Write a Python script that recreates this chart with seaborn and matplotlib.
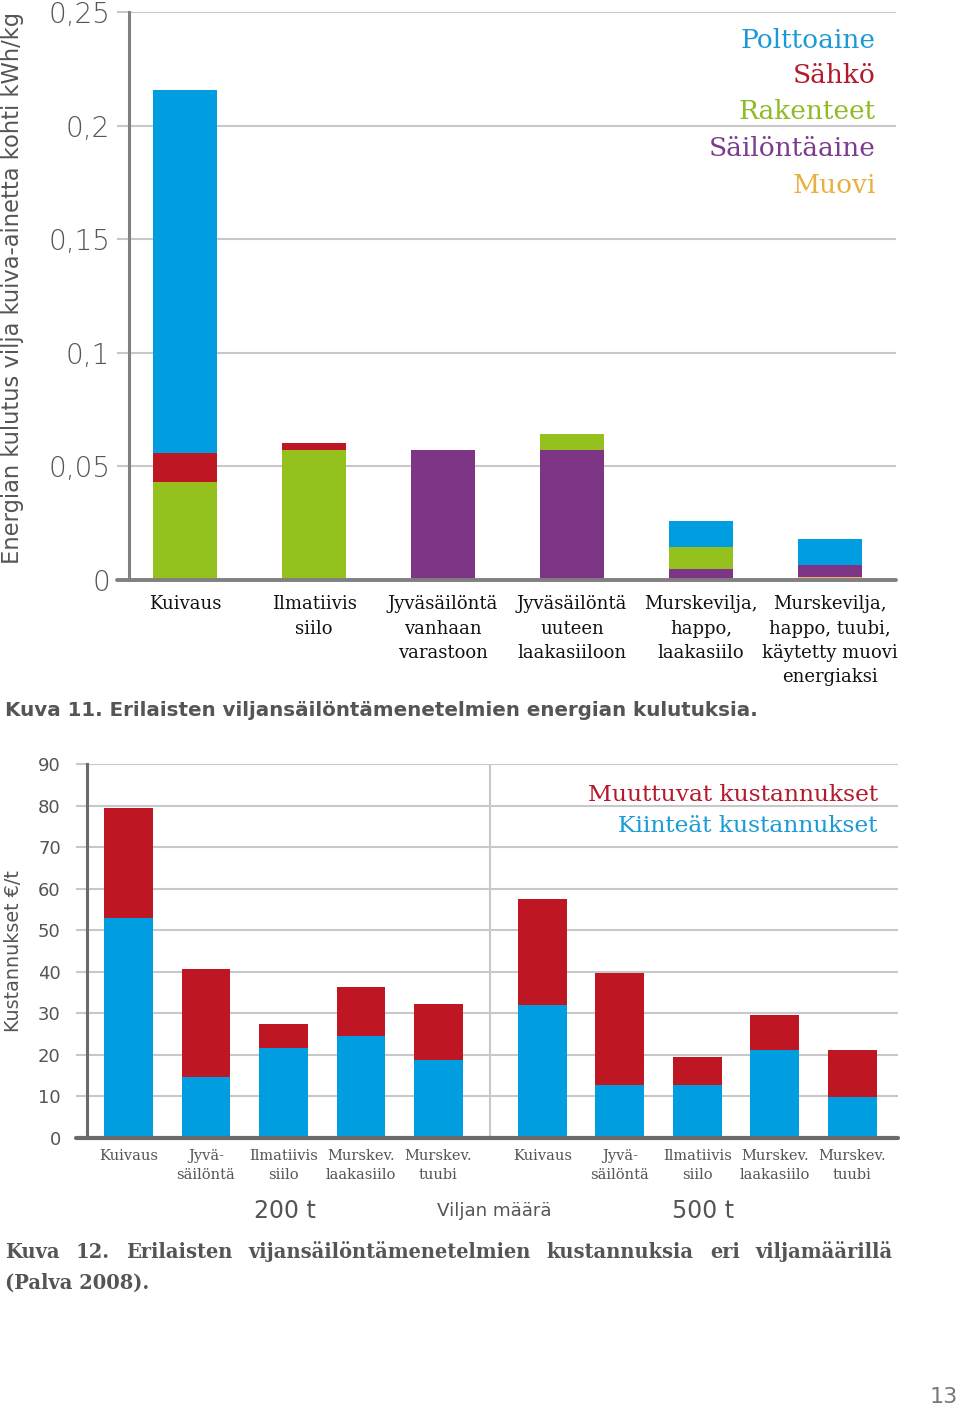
import matplotlib
matplotlib.use('Agg')
import matplotlib.pyplot as plt
import seaborn as sns
import numpy as np

sns.set_style('white')
plt.rcParams['font.family'] = ['DejaVu Sans']

# ---------------- data: chart 1 (energy) ----------------
categories1 = ["Kuivaus", "Ilmatiivis\nsiilo", "Jyväsäilöntä\nvanhaan\nvarastoon",
               "Jyväsäilöntä\nuuteen\nlaakasiiloon", "Murskevilja,\nhappo,\nlaakasiilo",
               "Murskevilja,\nhappo, tuubi,\nkäytetty muovi\nenergiaksi"]
series1_names = ["Polttoaine", "Sähkö", "Rakenteet", "Säilöntäaine", "Muovi"]
polttoaine   = [0.160, 0.0, 0.0, 0.0, 0.0113, 0.0115]
sahko        = [0.0125, 0.0031, 0.0, 0.0, 0.0, 0.0]
rakenteet    = [0.0433, 0.0571, 0.0, 0.0070, 0.0097, 0.0]
sailontaaine = [0.0, 0.0, 0.0573, 0.0573, 0.0048, 0.0054]
muovi        = [0.0, 0.0, 0.0, 0.0, 0.0, 0.0012]
yticks1 = [0, 0.05, 0.1, 0.15, 0.2, 0.25]
yticklabels1 = ["0", "0,05", "0,1", "0,15", "0,2", "0,25"]

# ---------------- data: chart 2 (costs) ----------------
categories2 = ["Kuivaus", "Jyvä-\nsäilöntä", "Ilmatiivis\nsiilo", "Murskev.\nlaakasiilo", "Murskev.\ntuubi"]
kiinteat_200  = [53.0, 14.7, 21.6, 24.6, 18.7]
muuttuvat_200 = [26.5, 26.0, 5.9, 11.7, 13.5]
kiinteat_500  = [32.0, 12.8, 12.8, 21.1, 9.8]
muuttuvat_500 = [25.4, 27.0, 6.8, 8.4, 11.3]
groups2 = ["200 t", "500 t"]
yticks2 = list(range(0, 91, 10))

# ---------------- style ----------------
W, H = 960, 1412
def fx(px): return px / W
def fy(py): return 1 - py / H

TXT = '#555555'
GRID = '#c8c8c8'
BLUE = '#009ee0'
RED = '#be1622'
GREEN = '#95c11f'
PURPLE = '#7f3585'
ORANGE = '#f0b060'
colors1 = {"Polttoaine": BLUE, "Sähkö": RED, "Rakenteet": GREEN,
           "Säilöntäaine": PURPLE, "Muovi": ORANGE}
legend_colors1 = {"Polttoaine": '#1b9ad6', "Sähkö": '#b31a2c', "Rakenteet": '#8fbb27',
                  "Säilöntäaine": '#7b3b8e', "Muovi": '#e8b040'}

fig = plt.figure(figsize=(W / 100, H / 100), dpi=100)

def fit(t, target, dim='w'):
    r = fig.canvas.get_renderer()
    bb = t.get_window_extent(renderer=r)
    cur = bb.width if dim == 'w' else bb.height
    t.set_fontsize(t.get_fontsize() * target / cur)

# ================= chart 1 =================
ax1 = fig.add_axes([fx(129), fy(580), (896 - 129) / W, (580 - 12) / H])
ax1.set_axisbelow(True)
# stack order bottom -> top
stack = [muovi, sailontaaine, rakenteet, sahko, polttoaine]
stack_names = ["Muovi", "Säilöntäaine", "Rakenteet", "Sähkö", "Polttoaine"]
cum = np.cumsum(np.array(stack), axis=0)
for i in reversed(range(len(stack))):
    sns.barplot(x=categories1, y=cum[i], order=categories1, color=colors1[stack_names[i]],
                saturation=1, width=0.5, errorbar=None, linewidth=0, ax=ax1, zorder=3)
ax1.set_xlim(-0.434, 5.51)
ax1.set_ylim(0, 0.25)
ax1.set_yticks(yticks1)
ax1.set_yticklabels(yticklabels1)
ax1.set_xlabel('')
ax1.set_ylabel('')
ax1.yaxis.grid(True, color=GRID, lw=1.5)
ax1.xaxis.grid(False)
for s in ['top', 'right', 'bottom']:
    ax1.spines[s].set_visible(False)
ax1.spines['left'].set_color('#808080')
ax1.spines['left'].set_linewidth(2.2)
ax1.tick_params(axis='y', left=True, length=8.6, width=1.5, color=GRID, pad=5,
                labelsize=20, labelcolor=TXT)
ax1.tick_params(axis='x', bottom=False, length=0, pad=11, labelsize=13, labelcolor='#111111')
for lab in ax1.get_yticklabels():
    lab.set_fontweight('light')
for lab in ax1.get_xticklabels():
    lab.set_family('DejaVu Serif')
    lab.set_linespacing(1.45)

ax1.axhline(0, xmin=-12 / 767, xmax=1, color='#808080', lw=2.8, clip_on=False, zorder=5)

# legend 1
base_y = [48.3, 83.3, 119.3, 156.0, 192.7]
for name, by in zip(series1_names, base_y):
    fig.text(fx(876), fy(by), name, ha='right', va='baseline', family='DejaVu Serif',
             fontsize=19, color=legend_colors1[name])

ylab1 = fig.text(fx(13), fy(288), "Energian kulutus vilja kuiva-ainetta kohti kWh/kg",
                 rotation=90, ha='center', va='center', fontsize=20, color=TXT)
cap1 = fig.text(fx(5), fy(711), "Kuva 11. Erilaisten viljansäilöntämenetelmien energian kulutuksia.",
                ha='left', va='center', fontsize=16, color=TXT, fontweight='bold')

# ================= chart 2 =================
ax2 = fig.add_axes([fx(87), fy(1138), (898 - 87) / W, (1138 - 764) / H])
ax2.set_axisbelow(True)
gap = 5.34
pos2 = list(range(5)) + [gap + i for i in range(5)]
fixed = kiinteat_200 + kiinteat_500
total = [a + b for a, b in zip(kiinteat_200, muuttuvat_200)] + \
        [a + b for a, b in zip(kiinteat_500, muuttuvat_500)]
sns.barplot(x=pos2, y=total, native_scale=True, color=RED, saturation=1, width=0.63,
            errorbar=None, linewidth=0, ax=ax2, zorder=3)
sns.barplot(x=pos2, y=fixed, native_scale=True, color=BLUE, saturation=1, width=0.63,
            errorbar=None, linewidth=0, ax=ax2, zorder=3)
ax2.set_xlim(-0.535, 9.93)
ax2.set_ylim(0, 90)
ax2.set_yticks(yticks2)
ax2.set_yticklabels([str(v) for v in yticks2])
ax2.set_xticks(pos2)
ax2.set_xticklabels(categories2 * 2)
ax2.set_xlabel('')
ax2.set_ylabel('')
ax2.yaxis.grid(True, color=GRID, lw=1.5)
ax2.xaxis.grid(False)
ax2.axvline((4 + gap) / 2, color=GRID, lw=1.5, zorder=1)
for s in ['top', 'right', 'bottom']:
    ax2.spines[s].set_visible(False)
ax2.spines['left'].set_color('#6a6a6a')
ax2.spines['left'].set_linewidth(2.2)
ax2.tick_params(axis='y', left=True, length=7.9, width=1.5, color=GRID, pad=11,
                labelsize=13, labelcolor=TXT)
ax2.tick_params(axis='x', bottom=False, length=0, pad=8, labelsize=10.5, labelcolor=TXT)
for lab in ax2.get_xticklabels():
    lab.set_family('DejaVu Serif')
    lab.set_linespacing(1.4)
ax2.axhline(0, xmin=-11 / 811, xmax=1, color='#6a6a6a', lw=3, clip_on=False, zorder=5)

fig.text(fx(878), fy(801), "Muuttuvat kustannukset", ha='right', va='baseline',
         family='DejaVu Serif', fontsize=16.8, color='#b31a2c')
fig.text(fx(878), fy(832.5), "Kiinteät kustannukset", ha='right', va='baseline',
         family='DejaVu Serif', fontsize=16.8, color='#1b9ad6')

ylab2 = fig.text(fx(14), fy(951), "Kustannukset €/t", rotation=90, ha='center', va='center',
                 fontsize=20, color=TXT)
fig.text(fx(285), fy(1211), groups2[0], ha='center', va='center', fontsize=17, color=TXT)
fig.text(fx(703), fy(1211), groups2[1], ha='center', va='center', fontsize=17, color=TXT)
xl2 = fig.text(fx(494), fy(1211), "Viljan määrä", ha='center', va='center', fontsize=17,
               color=TXT)

# page number
fig.text(fx(958), fy(1397), "13", ha='right', va='center', fontsize=16, color='#777777')

# fit text lengths
fig.canvas.draw()
fit(ylab1, 555, 'h')
fit(ylab2, 162, 'h')
fit(cap1, 757, 'w')
fit(xl2, 115, 'w')

# justified caption 2
line1 = "Kuva 12. Erilaisten vijansäilöntämenetelmien kustannuksia eri viljamäärillä".split()
words = [fig.text(0, fy(1258), w, ha='left', va='baseline', family='DejaVu Serif',
                  fontweight='bold', fontsize=16, color=TXT) for w in line1]
fig.canvas.draw()
r = fig.canvas.get_renderer()
widths = [t.get_window_extent(renderer=r).width for t in words]
target_sum = 888 - 16 * (len(words) - 1)
scale = target_sum / sum(widths)
for t in words:
    t.set_fontsize(t.get_fontsize() * scale)
fig.canvas.draw()
widths = [t.get_window_extent(renderer=r).width for t in words]
space = (893 - 5 - sum(widths)) / (len(words) - 1)
x = 5
for t, wd in zip(words, widths):
    t.set_x(fx(x))
    x += wd + space
fig.text(fx(5), fy(1289), "(Palva 2008).", ha='left', va='baseline', family='DejaVu Serif',
         fontweight='bold', fontsize=16 * scale, color=TXT)

fig.savefig('out.png', dpi=100)
